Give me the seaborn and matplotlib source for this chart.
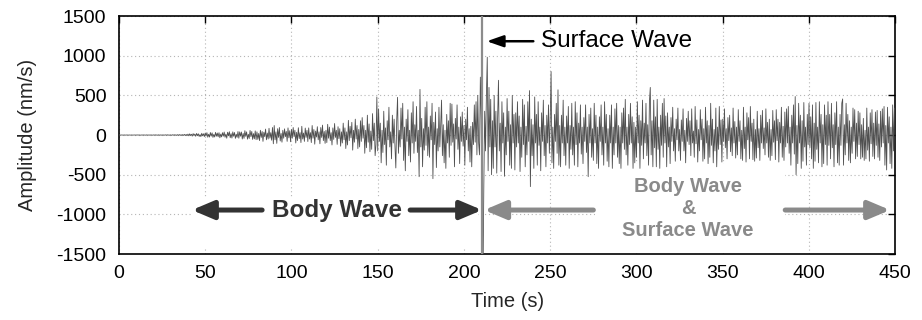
import numpy as np
import pandas as pd
import matplotlib
matplotlib.use("Agg")
import matplotlib.pyplot as plt
from matplotlib.patches import Rectangle
import seaborn as sns

dt = 0.5
amp_rows = [
    [0, 1, -1, 1, 0, -1, 1, 0, -1, 1, 0, -1, 1, -1, 0, 1, -1, 0, 1, -1],
    [1, -1, 2, -1, 1, -2, 1, -1, 2, -1, 1, -2, 2, -1, 1, -2, 2, -1, 1, -2],
    [2, -2, 3, -2, 2, -3, 3, -2, 2, -3, 3, -3, 2, -2, 3, -3, 4, -3, 3, -4],
    [3, -4, 4, -3, 5, -4, 4, -5, 5, -4, 6, -5, 5, -6, 6, -5, 8, -6, 7, -8],
    [12, -10, 15, -6, 10, -14, 18, -5, 12, -16, 20, -8, 16, -18, 6, -20, 22, -10, 16, -20],
    [25, -12, 30, -28, 10, -26, 32, -14, 28, -30, 8, -25, 34, -15, 26, -22, 30, -35, 12, -24],
    [30, -15, 38, -28, 12, -40, 36, -10, 42, -34, 18, -38, 40, -16, 32, -42, 10, -30, 44, -40],
    [40, -15, 38, -50, 20, -42, 55, -16, 40, -52, 10, -44, 58, -20, 45, -55, 18, -48, 52, -58],
    [40, -55, 20, -70, 60, -30, 45, -80, 35, -20, 75, -60, 25, -50, 85, -40, 30, -65, 95, -110],
    [120, -60, 40, -105, 80, -30, 95, -75, 20, -90, 60, -40, 78, -20, 45, -80, 90, -35, 55, -85],
    [70, -40, 95, -20, 60, -100, 35, -70, 92, -45, 30, -95, 110, -50, 25, -80, 88, -30, 60, -82],
    [90, -50, 30, -95, 120, -40, 70, -115, 50, -25, 105, -60, 40, -110, 95, -30, 125, -70, 45, -105],
    [60, -95, 135, -40, 100, -70, 30, -125, 90, -55, 145, -30, 60, -118, 105, -45, 80, -140, 40, -100],
    [150, -60, 90, -170, 40, -125, 185, -70, 110, -35, 160, -190, 60, -90, 200, -50, 120, -170, 70, -150],
    [180, -80, 220, -40, 120, -230, 60, -160, 250, -90, 140, -210, 50, -180, 270, -70, 150, -260, -120, 480],
    [-200, 330, -80, 150, -350, 60, -220, 300, -120, 90, -380, 180, -60, 350, -150, 40, -300, 250, -100, 200],
    [-140, -415, 180, 475, -230, 60, -150, 340, -50, 400, -320, 100, -450, 200, -80, 320, -260, 60, -340, 280],
    [-100, 420, -230, 130, -80, 360, -220, 60, -525, 575, -150, 210, -400, 80, -190, 350, -130, 420, -260, 100],
    [-280, 240, -60, 400, -550, 160, -120, 290, -410, 80, -200, 350, -150, 120, 440, -260, 130, -350, 60, -420],
    [260, -100, 180, -280, 400, -130, 390, -90, 140, -400, 210, -50, 380, -180, 100, -360, 230, -80, 290, -140],
    [120, -380, 200, -60, 350, -200, 80, -340, 110, -400, 160, -120, 380, -90, 420, -250, 500, -100, -250, 730],
    [200, -1800, -1900, -650, 300, -200, 500, 980, -450, 600, -150, 450, -500, 180, -420, 500, -150, 300, -480, 220],
    [690, -200, 150, -460, 420, -100, 280, -520, 100, -250, 460, -80, 300, -380, 130, -420, 500, -100, 260, -440],
    [280, -150, 420, -100, 240, -460, 100, -280, 450, -120, 380, -400, 110, -250, 420, -80, 560, -650, 200, -260],
    [130, -420, 480, -100, 260, -380, 420, -130, 100, -450, 280, -80, 440, -260, 120, -400, 250, -100, 380, -230],
    [200, 800, -350, 100, -420, 260, -80, 400, -230, 570, -380, 120, -400, 250, -100, 440, -260, 100, -380, 240],
    [-100, 360, -420, 120, -180, 400, -250, 100, -380, 420, -120, 280, -400, 150, -100, 380, -240, 100, -360, 220],
    [-80, 380, -220, 100, -525, 260, -100, 340, -280, 80, -320, 400, -100, 250, -360, 100, -420, 230, -80, 380],
    [-250, 100, -380, 420, -100, 260, -330, 80, -400, 250, -100, 380, -420, 100, -250, 330, -100, 400, -280, 120],
    [-360, 100, -420, 280, -100, 340, -180, 450, -250, 100, -380, 260, -120, 400, -100, 230, -420, 160, -350, 100],
    [-280, 420, -100, 250, -420, 180, -130, 440, -300, 150, -100, 400, -260, 130, -380, 420, 600, -250, 180, -400],
    [440, -160, 230, -400, 450, -180, 100, -420, 250, -130, 400, -280, 460, -100, 240, -400, 280, -150, 100, -360],
    [220, -80, 350, -200, 80, -330, 200, -60, 340, -200, 70, -320, 190, -80, 330, -200, 60, -350, 210, -80],
    [300, -120, 180, -260, 330, -100, 50, -280, 360, -110, 190, -340, 70, -200, 320, -60, 200, -330, 80, -300],
    [350, -100, 180, -360, 120, -280, 400, -130, 200, -350, 70, -200, 340, -400, 100, -180, 360, -120, 190, -340],
    [200, -80, 330, -160, 80, -300, 220, -70, 250, -210, 90, -260, 340, -100, 170, -290, 100, -250, 320, -80],
    [180, -300, 60, -320, 350, -170, 100, -340, 280, -60, 220, -300, 360, -80, 150, -310, 200, -330, 70, -290],
    [300, -160, 80, -320, 250, -100, 310, -170, 90, -250, 330, -100, 160, -280, 200, -320, 70, -260, 310, -90],
    [180, -310, 320, -70, 200, -340, 160, -100, 350, -280, 110, -320, 290, -150, 330, -100, 360, -230, 100, -380],
    [250, -100, 380, -240, 485, -500, 120, -360, 400, -100, 250, -420, 180, -330, 410, -150, 100, -380, 260, -120],
    [400, -160, 230, -300, 380, -420, 150, -330, 410, -180, 100, -350, 420, -100, 260, -400, 130, -360, 380, -120],
    [250, -380, 420, -130, 260, -300, 400, -160, 130, -400, 280, -120, 420, -350, 100, -380, 260, -130, 400, 455],
    [-380, 130, -250, 400, -100, 260, -320, 180, -350, 100, -230, 340, -80, 320, -300, 150, -270, 300, -120, 280],
    [-300, 130, -280, 210, -320, 60, -300, 340, -190, 100, -330, 280, -110, 320, -270, 150, -300, 290, -130, 310],
    [-280, 140, -320, 300, -150, 330, -100, 360, -380, 120, -440, 350, -100, 230, -360, 100, -420, 380, -200, 340],
]
x_ticks = [0, 50, 100, 150, 200, 250, 300, 350, 400, 450]
y_ticks = [-1500, -1000, -500, 0, 500, 1000, 1500]
arrival_time = 210.3

amp = np.concatenate(amp_rows)
df = pd.DataFrame({"Time": np.arange(len(amp)) * dt, "Amplitude": amp})

sns.set_style("white")
plt.rcParams["font.family"] = ["Liberation Sans", "DejaVu Sans"]
plt.rcParams["axes.unicode_minus"] = False

fig = plt.figure(figsize=(9.22, 3.2), dpi=100)
ax = fig.add_axes([0.129, 0.206, 0.842, 0.744])

sns.lineplot(data=df, x="Time", y="Amplitude", ax=ax, color="#505050",
             lw=0.6, estimator=None, zorder=3)
ax.axvline(arrival_time, color="#8c8c8c", lw=1.6, zorder=4)

# white patches behind the labels (hide the grid there)
ax.add_patch(Rectangle((43, -1420), 165, 640, facecolor="white", edgecolor="none", zorder=1))
ax.add_patch(Rectangle((276, -1480), 110, 1110, facecolor="white", edgecolor="none", zorder=1))

dark = "#333333"
light = "#8a8a8a"
big = dict(arrowstyle="-|>,head_length=1.3,head_width=0.55", lw=3.6,
           mutation_scale=10, shrinkA=0, shrinkB=0)

ax.annotate("", xy=(42.3, -945), xytext=(83, -945),
            arrowprops=dict(color=dark, **big), zorder=5)
ax.annotate("", xy=(210.5, -945), xytext=(168.8, -945),
            arrowprops=dict(color=dark, **big), zorder=5)
ax.text(126.5, -945, "Body Wave", ha="center", va="center", fontsize=17.5,
        fontweight="bold", color=dark, zorder=5)

ax.annotate("", xy=(211.7, -945), xytext=(275, -945),
            arrowprops=dict(color=light, **big), zorder=5)
ax.annotate("", xy=(447, -945), xytext=(386.2, -945),
            arrowprops=dict(color=light, **big), zorder=5)
ax.text(330, -930, "Body Wave\n&\nSurface Wave", ha="center", va="center",
        fontsize=14.5, fontweight="bold", color=light, linespacing=1.2, zorder=5)

ax.annotate("", xy=(213.2, 1182), xytext=(240.2, 1182),
            arrowprops=dict(arrowstyle="-|>,head_length=1.0,head_width=0.35", lw=1.8,
                            mutation_scale=10, color="black", shrinkA=0, shrinkB=0),
            zorder=5)
ax.text(244.8, 1182, "Surface Wave", ha="left", va="center", fontsize=17.5, color="black")

ax.set_xlim(0, 450)
ax.set_ylim(-1500, 1500)
ax.set_xticks(x_ticks)
ax.set_yticks(y_ticks)
ax.grid(True, linestyle=(0, (1, 2.5)), color="#b5b5b5", lw=0.8)
ax.set_axisbelow(True)
ax.tick_params(direction="in", length=5, width=1, top=True, right=True,
               labelsize=14, colors="black")
ax.tick_params(axis="y", pad=9)
ax.tick_params(axis="x", pad=8)
for s in ax.spines.values():
    s.set_color("black")
    s.set_linewidth(1.2)

ax.set_xlabel("Time (s)", fontsize=14.5, labelpad=7)
ax.set_ylabel("Amplitude (nm/s)", fontsize=14.5, labelpad=14)

fig.savefig("out.png", dpi=100)
